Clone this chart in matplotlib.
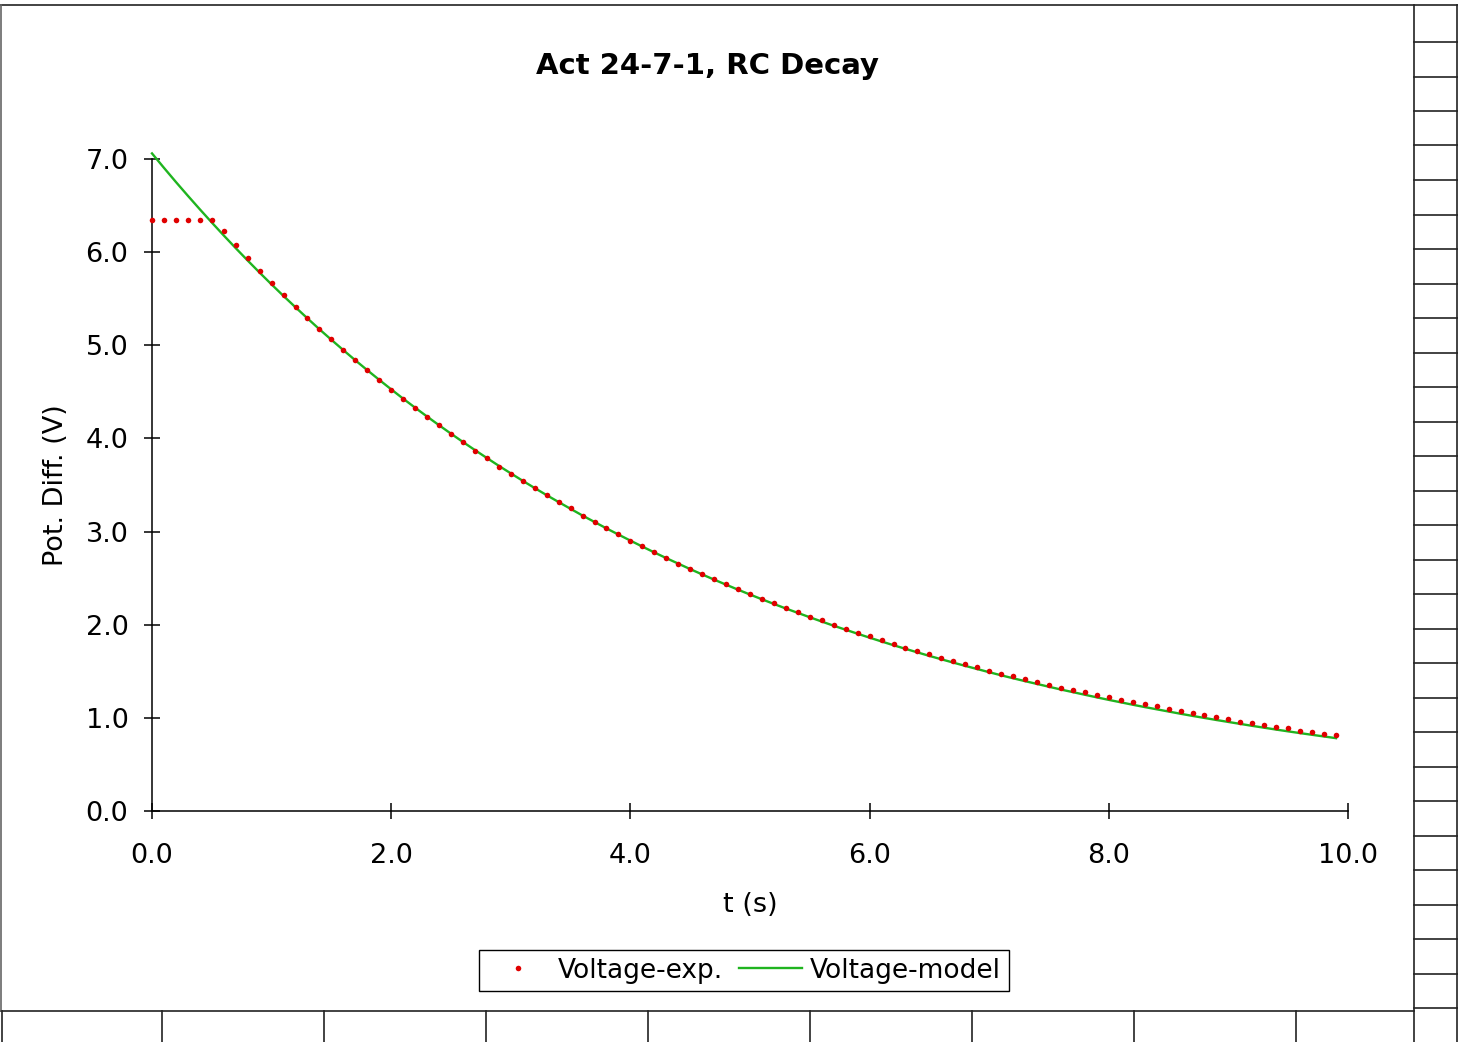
import numpy as np
import matplotlib
matplotlib.use("Agg")
import matplotlib.pyplot as plt
from matplotlib.lines import Line2D

# ---------------- data ----------------
t = [round(0.1 * i, 1) for i in range(100)]

voltage_exp = [
    6.346, 6.346, 6.350, 6.350, 6.346, 6.350, 6.227, 6.073, 5.938, 5.801,
    5.670, 5.544, 5.415, 5.290, 5.176, 5.064, 4.946, 4.839, 4.736, 4.632,
    4.525, 4.421, 4.324, 4.235, 4.146, 4.045, 3.959, 3.870, 3.788, 3.698,
    3.623, 3.548, 3.466, 3.391, 3.315, 3.248, 3.165, 3.101, 3.041, 2.972,
    2.901, 2.840, 2.779, 2.715, 2.654, 2.601, 2.547, 2.489, 2.436, 2.379,
    2.333, 2.275, 2.229, 2.182, 2.132, 2.086, 2.049, 1.996, 1.953, 1.910,
    1.878, 1.832, 1.796, 1.749, 1.714, 1.681, 1.646, 1.609, 1.577, 1.542,
    1.506, 1.474, 1.445, 1.416, 1.384, 1.356, 1.324, 1.295, 1.274, 1.241,
    1.220, 1.191, 1.166, 1.145, 1.123, 1.091, 1.073, 1.048, 1.030, 1.009,
    0.987, 0.959, 0.941, 0.920, 0.906, 0.891, 0.863, 0.848, 0.830, 0.815,
]

voltage_model = [
    7.060, 6.905, 6.753, 6.605, 6.460, 6.318, 6.179, 6.043, 5.910, 5.780,
    5.653, 5.529, 5.408, 5.289, 5.172, 5.059, 4.948, 4.839, 4.733, 4.629,
    4.527, 4.427, 4.330, 4.235, 4.142, 4.051, 3.962, 3.875, 3.790, 3.706,
    3.625, 3.545, 3.467, 3.391, 3.317, 3.244, 3.172, 3.103, 3.034, 2.968,
    2.903, 2.839, 2.776, 2.715, 2.656, 2.597, 2.540, 2.484, 2.430, 2.376,
    2.324, 2.273, 2.223, 2.174, 2.127, 2.080, 2.034, 1.989, 1.946, 1.903,
    1.861, 1.820, 1.780, 1.741, 1.703, 1.665, 1.629, 1.593, 1.558, 1.524,
    1.490, 1.457, 1.425, 1.394, 1.364, 1.334, 1.304, 1.276, 1.248, 1.220,
    1.193, 1.167, 1.141, 1.116, 1.092, 1.068, 1.044, 1.021, 0.999, 0.977,
    0.956, 0.935, 0.914, 0.894, 0.874, 0.855, 0.836, 0.818, 0.800, 0.782,
]

x_ticks = [0.0, 2.0, 4.0, 6.0, 8.0, 10.0]
y_ticks = [0.0, 1.0, 2.0, 3.0, 4.0, 5.0, 6.0, 7.0]
title = "Act 24-7-1, RC Decay"
x_label = "t (s)"
y_label = "Pot. Diff. (V)"
labels = ["Voltage-exp.", "Voltage-model"]

# ---------------- figure ----------------
W, H = 1458, 1042
plt.rcParams['font.family'] = ['DejaVu Sans']
fig = plt.figure(figsize=(W / 100, H / 100), dpi=100)
fig.patch.set_facecolor('white')

def fx(px):
    return px / W

def fy(py):
    return 1 - py / H

ax = fig.add_axes([fx(152), fy(811), fx(1348) - fx(152), (811 - 159) / H])

RED = '#e00000'
GREEN = '#1fb41f'

line_model, = ax.plot(t, voltage_model, color=GREEN, lw=1.7, clip_on=False, zorder=2)
dots, = ax.plot(t, voltage_exp, linestyle='none', marker='o', markersize=4.0,
                markerfacecolor=RED, markeredgecolor='none', clip_on=False, zorder=3)

ax.set_xlim(0, 10)
ax.set_ylim(0, 7)
ax.set_xticks(x_ticks)
ax.set_yticks(y_ticks)
ax.set_xticklabels([f"{v:.1f}" for v in x_ticks])
ax.set_yticklabels([f"{v:.1f}" for v in y_ticks])
for s in ['top', 'right']:
    ax.spines[s].set_visible(False)
for s in ['left', 'bottom']:
    ax.spines[s].set_linewidth(1.1)
    ax.spines[s].set_color('black')
ax.tick_params(axis='x', direction='inout', length=12, width=1.1, pad=17, labelsize=19.5)
ax.tick_params(axis='y', direction='inout', length=12, width=1.1, pad=11, labelsize=19.5)
ax.patch.set_alpha(0)

ax.set_xlabel(x_label, fontsize=19.5)
ax.set_ylabel(y_label, fontsize=19.5)
ax.xaxis.set_label_coords(0.5, (811 - 892) / 652)
ax.yaxis.set_label_coords((69 - 152) / 1196, 0.5)

fig.text(fx(707), fy(66), title, ha='center', va='center', fontsize=21, fontweight='bold')

leg = fig.legend([dots, line_model], labels, loc='center',
                 bbox_to_anchor=(fx(744), fy(970.5)), ncol=2, fontsize=19,
                 frameon=True, fancybox=False, edgecolor='black', framealpha=1,
                 handlelength=2.4, handletextpad=0.3, columnspacing=0.6,
                 borderpad=0.3, borderaxespad=0)
leg.get_frame().set_linewidth(1.0)

# ---------------- spreadsheet frame / cell grid ----------------
def hline(y, x0, x1, lw=1.2, c='#222222'):
    fig.add_artist(Line2D([fx(x0), fx(x1)], [fy(y), fy(y)], color=c, lw=lw,
                          transform=fig.transFigure))

def vline(x, y0, y1, lw=1.2, c='#222222'):
    fig.add_artist(Line2D([fx(x), fx(x)], [fy(y0), fy(y1)], color=c, lw=lw,
                          transform=fig.transFigure))

# chart box
hline(4.5, 0, 1458)
hline(1011, 0, 1414)
vline(0.7, 4.5, 1011, c='#666666')
vline(1414, 4.5, 1042)
# right column of cells
vline(1456.5, 4.5, 1042)
for k in range(29):
    hline(42 + 34.5 * k, 1414, 1458)
# bottom row of cells
for xv in [1.5, 162, 324, 486, 648, 810, 972, 1134, 1296]:
    vline(xv, 1011, 1042)

fig.savefig('out.png', dpi=100)
